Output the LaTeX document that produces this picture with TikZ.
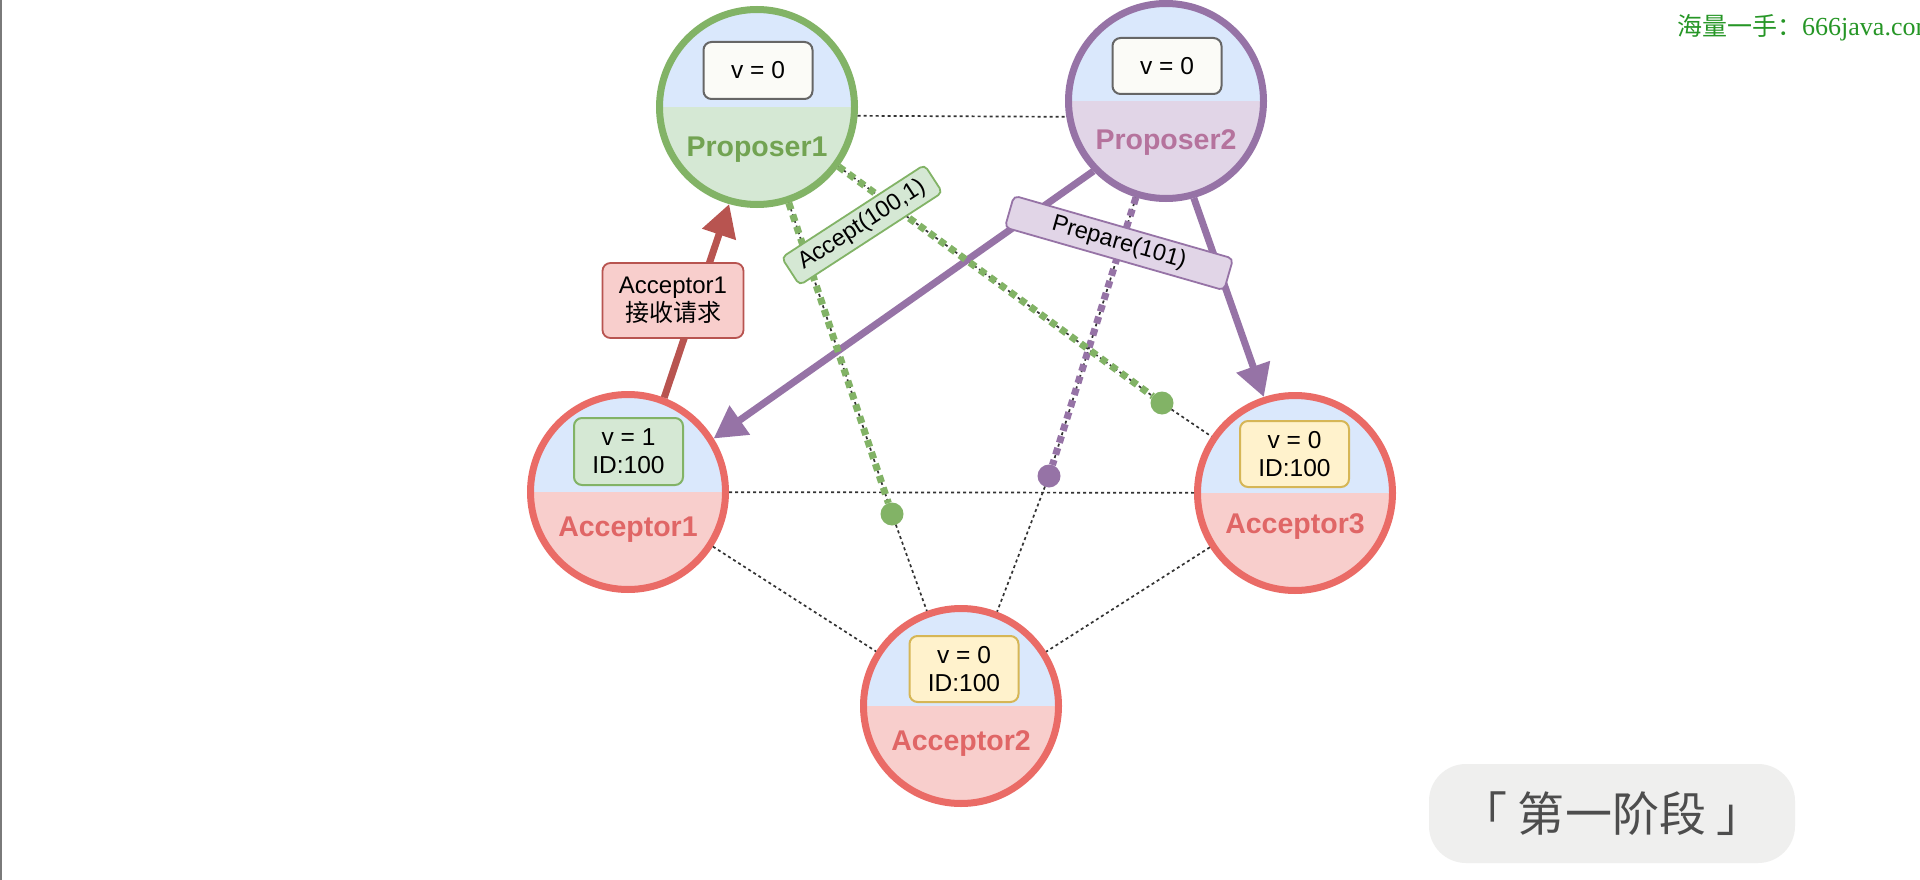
\documentclass[tikz,border=0pt]{standalone}
\usepackage{fontspec}
\setmainfont{Liberation Sans}
\newfontfamily\cjk{Noto Sans CJK SC}
\newfontfamily\wmfont{Liberation Serif}
\usetikzlibrary{arrows.meta,calc}

\definecolor{lblue}{HTML}{DAE8FC}
\definecolor{lgreen}{HTML}{D5E8D4}
\definecolor{dgreen}{HTML}{82B366}
\definecolor{lpurple}{HTML}{E1D5E7}
\definecolor{dpurple}{HTML}{9673A6}
\definecolor{lred}{HTML}{F8CECC}
\definecolor{dred}{HTML}{EA6B66}
\definecolor{brick}{HTML}{B85450}
\definecolor{lyellow}{HTML}{FFF2CC}
\definecolor{dyellow}{HTML}{D6B656}
\definecolor{offwhite}{HTML}{FBFBF7}
\definecolor{pgtext}{HTML}{72A352}
\definecolor{pptext}{HTML}{B5739D}
\definecolor{artext}{HTML}{E06666}
\definecolor{wmgreen}{RGB}{38,150,38}
\definecolor{tagbg}{HTML}{EFEFEE}
\definecolor{tagtext}{HTML}{4D4D4D}
\definecolor{edgegray}{HTML}{333333}
\definecolor{sidegray}{HTML}{7A7A7A}

\newcommand\valfont{\fontsize{24.5}{28}\selectfont}
\newcommand\rolefont{\bfseries\fontsize{28.5}{32}\selectfont}
\newcommand\msgfont{\fontsize{23.5}{28}\selectfont}

\tikzset{
  role/.style 2 args={circle, minimum size=195pt, inner sep=0pt, line width=7pt, draw=#1,
    path picture={
      \fill[lblue] (path picture bounding box.north west) rectangle (path picture bounding box.east);
      \fill[#2] (path picture bounding box.west) rectangle (path picture bounding box.south east);}},
  rolename/.style={font=\rolefont, text=#1, inner sep=0pt},
  valbox/.style 2 args={draw=#1, fill=#2, line width=2pt, rounded corners=8pt,
    minimum width=109pt, align=center, font=\valfont, inner sep=0pt},
  tag/.style 2 args={draw=#1, fill=#2, line width=1.8pt, rounded corners=5pt,
    inner xsep=12pt, inner ysep=0pt, minimum height=33pt, font=\msgfont},
  thinedge/.style={draw=edgegray, line width=1.7pt, dash pattern=on 3pt off 3pt},
  msgdash/.style={draw=#1, line width=7pt, dash pattern=on 7pt off 5.5pt},
  msgarrow/.style={draw=#1, line width=7pt, -{Triangle[length=32pt,width=34pt]}},
  dotmark/.style={circle, fill=#1, minimum size=23pt, inner sep=0pt, outer sep=0pt},
}

\begin{document}
\begin{tikzpicture}[x=1pt, y=-1pt]
  % page
  \fill[white] (0,0) rectangle (1920,880);
  \useasboundingbox (0,0) rectangle (1920,880);
  \fill[sidegray] (0,0) rectangle (2,880);

  % proposers and acceptors
  \node[role={dgreen}{lgreen}]   (p1) at (757,107) {};
  \node[role={dpurple}{lpurple}] (p2) at (1166,101) {};
  \node[role={dred}{lred}]       (a1) at (628,492) {};
  \node[role={dred}{lred}]       (a3) at (1295,493) {};
  \node[role={dred}{lred}]       (a2) at (961,706) {};

  % markers where the pending messages stop
  \node[dotmark=dgreen]  (g1) at (892,514) {};
  \node[dotmark=dgreen]  (g2) at (1162,403) {};
  \node[dotmark=dpurple] (pd) at (1049,476) {};

  % network links
  \draw[thinedge] (p1.-5.7) -- (p2.189);
  \draw[thinedge] (a1) -- (a3);
  \draw[thinedge] (a1) -- (a2);
  \draw[thinedge] (a3) -- (a2);
  \draw[thinedge] (p1) -- (g1) -- (a2);
  \draw[thinedge] (p1) -- (g2) -- (a3);
  \draw[thinedge] (p2) -- (pd) -- (a2);

  % delivered messages
  \draw[msgarrow=dpurple] (p2.224) -- (a1.32);
  \draw[msgarrow=dpurple] (p2.286) -- (a3.108.6);
  \draw[msgarrow=brick]   (a1.69) -- (p1.254.6);

  % messages in flight
  \draw[msgdash=dpurple] (p2) -- (pd);
  \draw[msgdash=dgreen]  (p1) -- (g1);
  \draw[msgdash=dgreen]  (p1) -- (g2);

  % values held by each node
  \node[valbox={black!60}{offwhite}, minimum height=57pt] (p1v) at (758,70.5) {v = 0};
  \node[valbox={black!60}{offwhite}, minimum height=56pt] (p2v) at (1167,66) {v = 0};
  \node[valbox={dgreen}{lgreen}, minimum height=67pt]   (a1v) at (628.5,451.5) {v = 1\\ID:100};
  \node[valbox={dyellow}{lyellow}, minimum height=66pt] (a3v) at (1294.5,454) {v = 0\\ID:100};
  \node[valbox={dyellow}{lyellow}, minimum height=66pt] (a2v) at (964,669) {v = 0\\ID:100};

  % role names
  \node[rolename=pgtext] (p1n) at (757,150) {Proposer1};
  \node[rolename=pptext] (p2n) at (1166,143) {Proposer2};
  \node[rolename=artext] (a1n) at (628,530) {Acceptor1};
  \node[rolename=artext] (a3n) at (1295,527) {Acceptor3};
  \node[rolename=artext] (a2n) at (961,744) {Acceptor2};

  % message labels
  \node[draw=brick, fill=lred, line width=1.8pt, rounded corners=8pt, minimum width=141pt,
        minimum height=75pt, align=center, inner sep=0pt, font=\fontsize{24}{28}\selectfont]
        (req) at (673,300.5) {Acceptor1\\{\cjk 接收请求}};
  \node[tag={dgreen}{lgreen}, rotate=33]    (acc) at (862,225) {Accept(100,1)};
  \node[tag={dpurple}{lpurple}, rotate=-16, minimum width=228pt] (prep) at (1119,243) {Prepare(101)};

  % watermark
  \node[anchor=base west, inner sep=0pt, text=wmgreen]
        (wm) at (1677,36) {{\cjk\fontsize{25}{28}\selectfont 海量一手：}{\wmfont\fontsize{26}{28}\selectfont 666java.com}};

  % phase caption
  \node[fill=tagbg, rounded corners=37pt, minimum width=366pt, minimum height=99pt, inner sep=0pt,
        text=tagtext, font=\cjk\fontsize{47}{52}\selectfont] (phase) at (1612,813.5) {「 第一阶段 」};
\end{tikzpicture}
\end{document}
